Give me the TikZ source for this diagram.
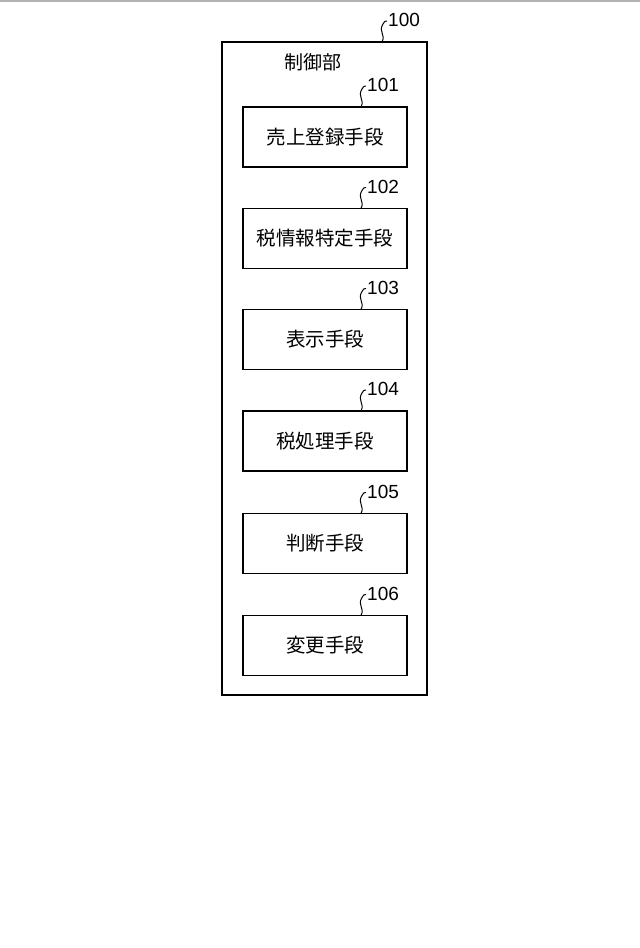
\documentclass[tikz,border=0pt]{standalone}
\usepackage{fontspec}
\newfontfamily\cjk{Noto Sans CJK JP}
\setmainfont{Liberation Sans}
\begin{document}
\begin{tikzpicture}[x=1pt,y=-1pt,
  box/.style={draw,line width=1.3pt,minimum width=164pt,minimum height=60pt,font=\cjk\fontsize{19.5}{19.5}\selectfont,inner sep=0pt},
  lbl/.style={font=\fontsize{19}{19}\selectfont,anchor=west,inner sep=1pt},
  lead/.style={line width=1pt}]
\useasboundingbox (0,0) rectangle (640,948);
\fill[gray!60] (0,0) rectangle (640,2);
\node[draw,line width=1.3pt,minimum width=205pt,minimum height=653pt,inner sep=0pt] (outer) at (324.5,368.5) {};
\node[font=\cjk\fontsize{19}{19}\selectfont] (title) at (313,62) {制御部};
\coordinate (c0) at (382,42);
\draw[lead] (c0) .. controls (386,34) and (378,32) .. (383,24) .. controls (385,21) .. (387,21);
\node[lbl] (l0) at (387,20) {100};
\foreach \i/\y/\t in {1/137/売上登録手段,2/238.5/税情報特定手段,3/339.5/表示手段,4/441/税処理手段,5/543.5/判断手段,6/645.5/変更手段}{
  \node[box] (b\i) at (325,\y) {\t};
  \coordinate (c\i) at (361,\y-30);
  \draw[lead] (c\i) .. controls (365,\y-38) and (357,\y-40) .. (362,\y-48) .. controls (364,\y-51) .. (366,\y-51);
  \node[lbl] (l\i) at (366,\y-52) {10\i};
}
\end{tikzpicture}
\end{document}
